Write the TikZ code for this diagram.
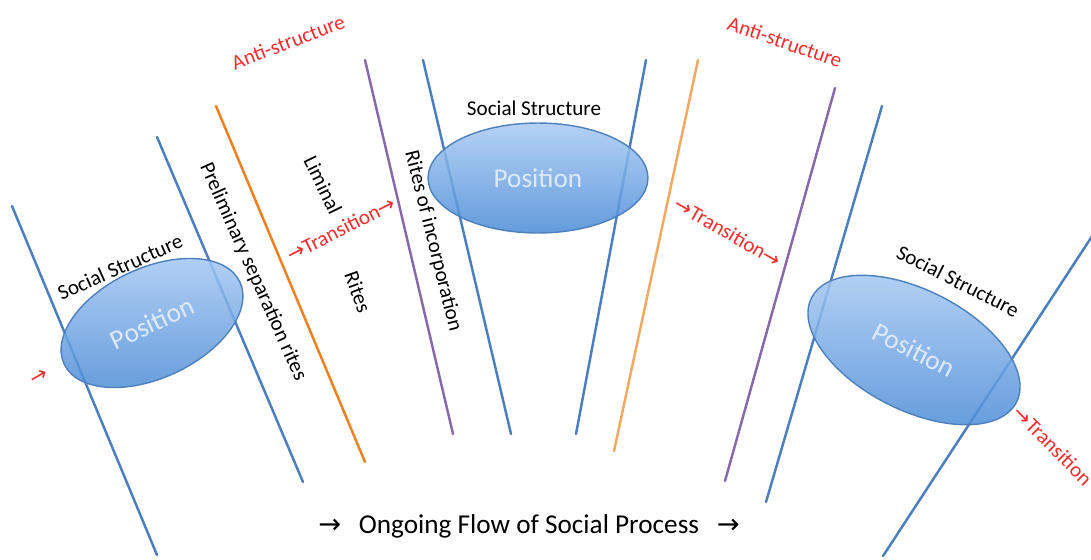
\documentclass[tikz,border=0pt]{standalone}
\usepackage{fontspec}
\setmainfont{Carlito}
\newfontfamily\arrfont{DejaVu Sans}
\newcommand{\goarrow}{{\arrfont →}}
\usetikzlibrary{shapes.geometric}
\definecolor{lineblue}{RGB}{74,126,190}
\definecolor{lineorange}{RGB}{240,128,30}
\definecolor{lightorange}{RGB}{245,168,95}
\definecolor{linepurple}{RGB}{135,105,170}
\definecolor{redtext}{RGB}{245,45,45}
\definecolor{postop}{RGB}{168,202,243}
\definecolor{posbot}{RGB}{72,138,214}
\definecolor{posedge}{RGB}{78,128,190}
\definecolor{postext}{RGB}{222,234,249}
\begin{document}
\begin{tikzpicture}[x=0.02cm, y=-0.02cm, line width=1.4pt, line cap=round,
	posn/.style={ellipse, draw=posedge, line width=0.8pt, top color=postop, bottom color=posbot,
		fill opacity=0.85, text opacity=1, text=postext, inner sep=0pt,
		font=\fontsize{15.5}{18}\selectfont},
	lab/.style={font=\fontsize{12}{14}\selectfont, inner sep=0pt},
	redlab/.style={lab, text=redtext}]
	\useasboundingbox (0,0) rectangle (1091,559);
	\clip (0,0) rectangle (1091,559);
	
	% boundary lines
	\draw [lineblue] (12,206) -- (157,555);
	\draw [lineblue] (157,137) -- (303,482);
	\draw [lineorange] (216,106) -- (365,462);
	\draw [linepurple] (365,60) -- (453,434);
	\draw [lineblue] (423,60) -- (511,434);
	\draw [lineblue] (646,60) -- (576,434);
	\draw [lightorange] (698,60) -- (614,451);
	\draw [linepurple] (835,88) -- (725,481);
	\draw [lineblue] (882,106) -- (766,502);
	\draw [lineblue] (1100,224) -- (883,556);
	
	% positions
	\node (pos1) at (152,323) [posn, rotate=25, minimum width=3.88cm, minimum height=2.2cm] {Position};
	\node (pos2) at (538,178) [posn, minimum width=4.4cm, minimum height=2.2cm] {Position};
	\node (pos3) at (914,350) [posn, rotate=-27, minimum width=4.6cm, minimum height=2.4cm] {Position};
	
	\node (ss1) at (120,267) [lab, rotate=24] {Social Structure};
	\node (ss2) at (534,108) [lab] {Social Structure};
	\node (ss3) at (958,281) [lab, rotate=-27] {Social Structure};
	
	\node (anti1) at (288,42) [redlab, rotate=21] {Anti-structure};
	\node (anti2) at (785,42) [redlab, rotate=-19] {Anti-structure};
	
	\node (prelim) at (253,272) [lab, rotate=-66] {Preliminary separation rites};
	\node (liminal) at (323,185) [lab, rotate=-64] {Liminal};
	\node (rites) at (358,292) [lab, rotate=-70] {Rites};
	\node (incorp) at (433,241) [lab, rotate=-76] {Rites of incorporation};
	
	\node (arr0) at (39,377) [redlab, rotate=30] {\goarrow};
	\node (trans1) at (341,229) [redlab, rotate=27] {\goarrow Transition\goarrow};
	\node (trans2) at (728,232) [redlab, rotate=-30] {\goarrow Transition\goarrow};
	\node (trans3) at (1016,409) [redlab, rotate=-45, anchor=west] {\goarrow Transition};
	
	\node (flow) at (529,526) [font=\fontsize{15.5}{18}\selectfont] {\goarrow\hspace{0.65em}Ongoing Flow of Social Process\hspace{0.65em}\goarrow};
\end{tikzpicture}
\end{document}
